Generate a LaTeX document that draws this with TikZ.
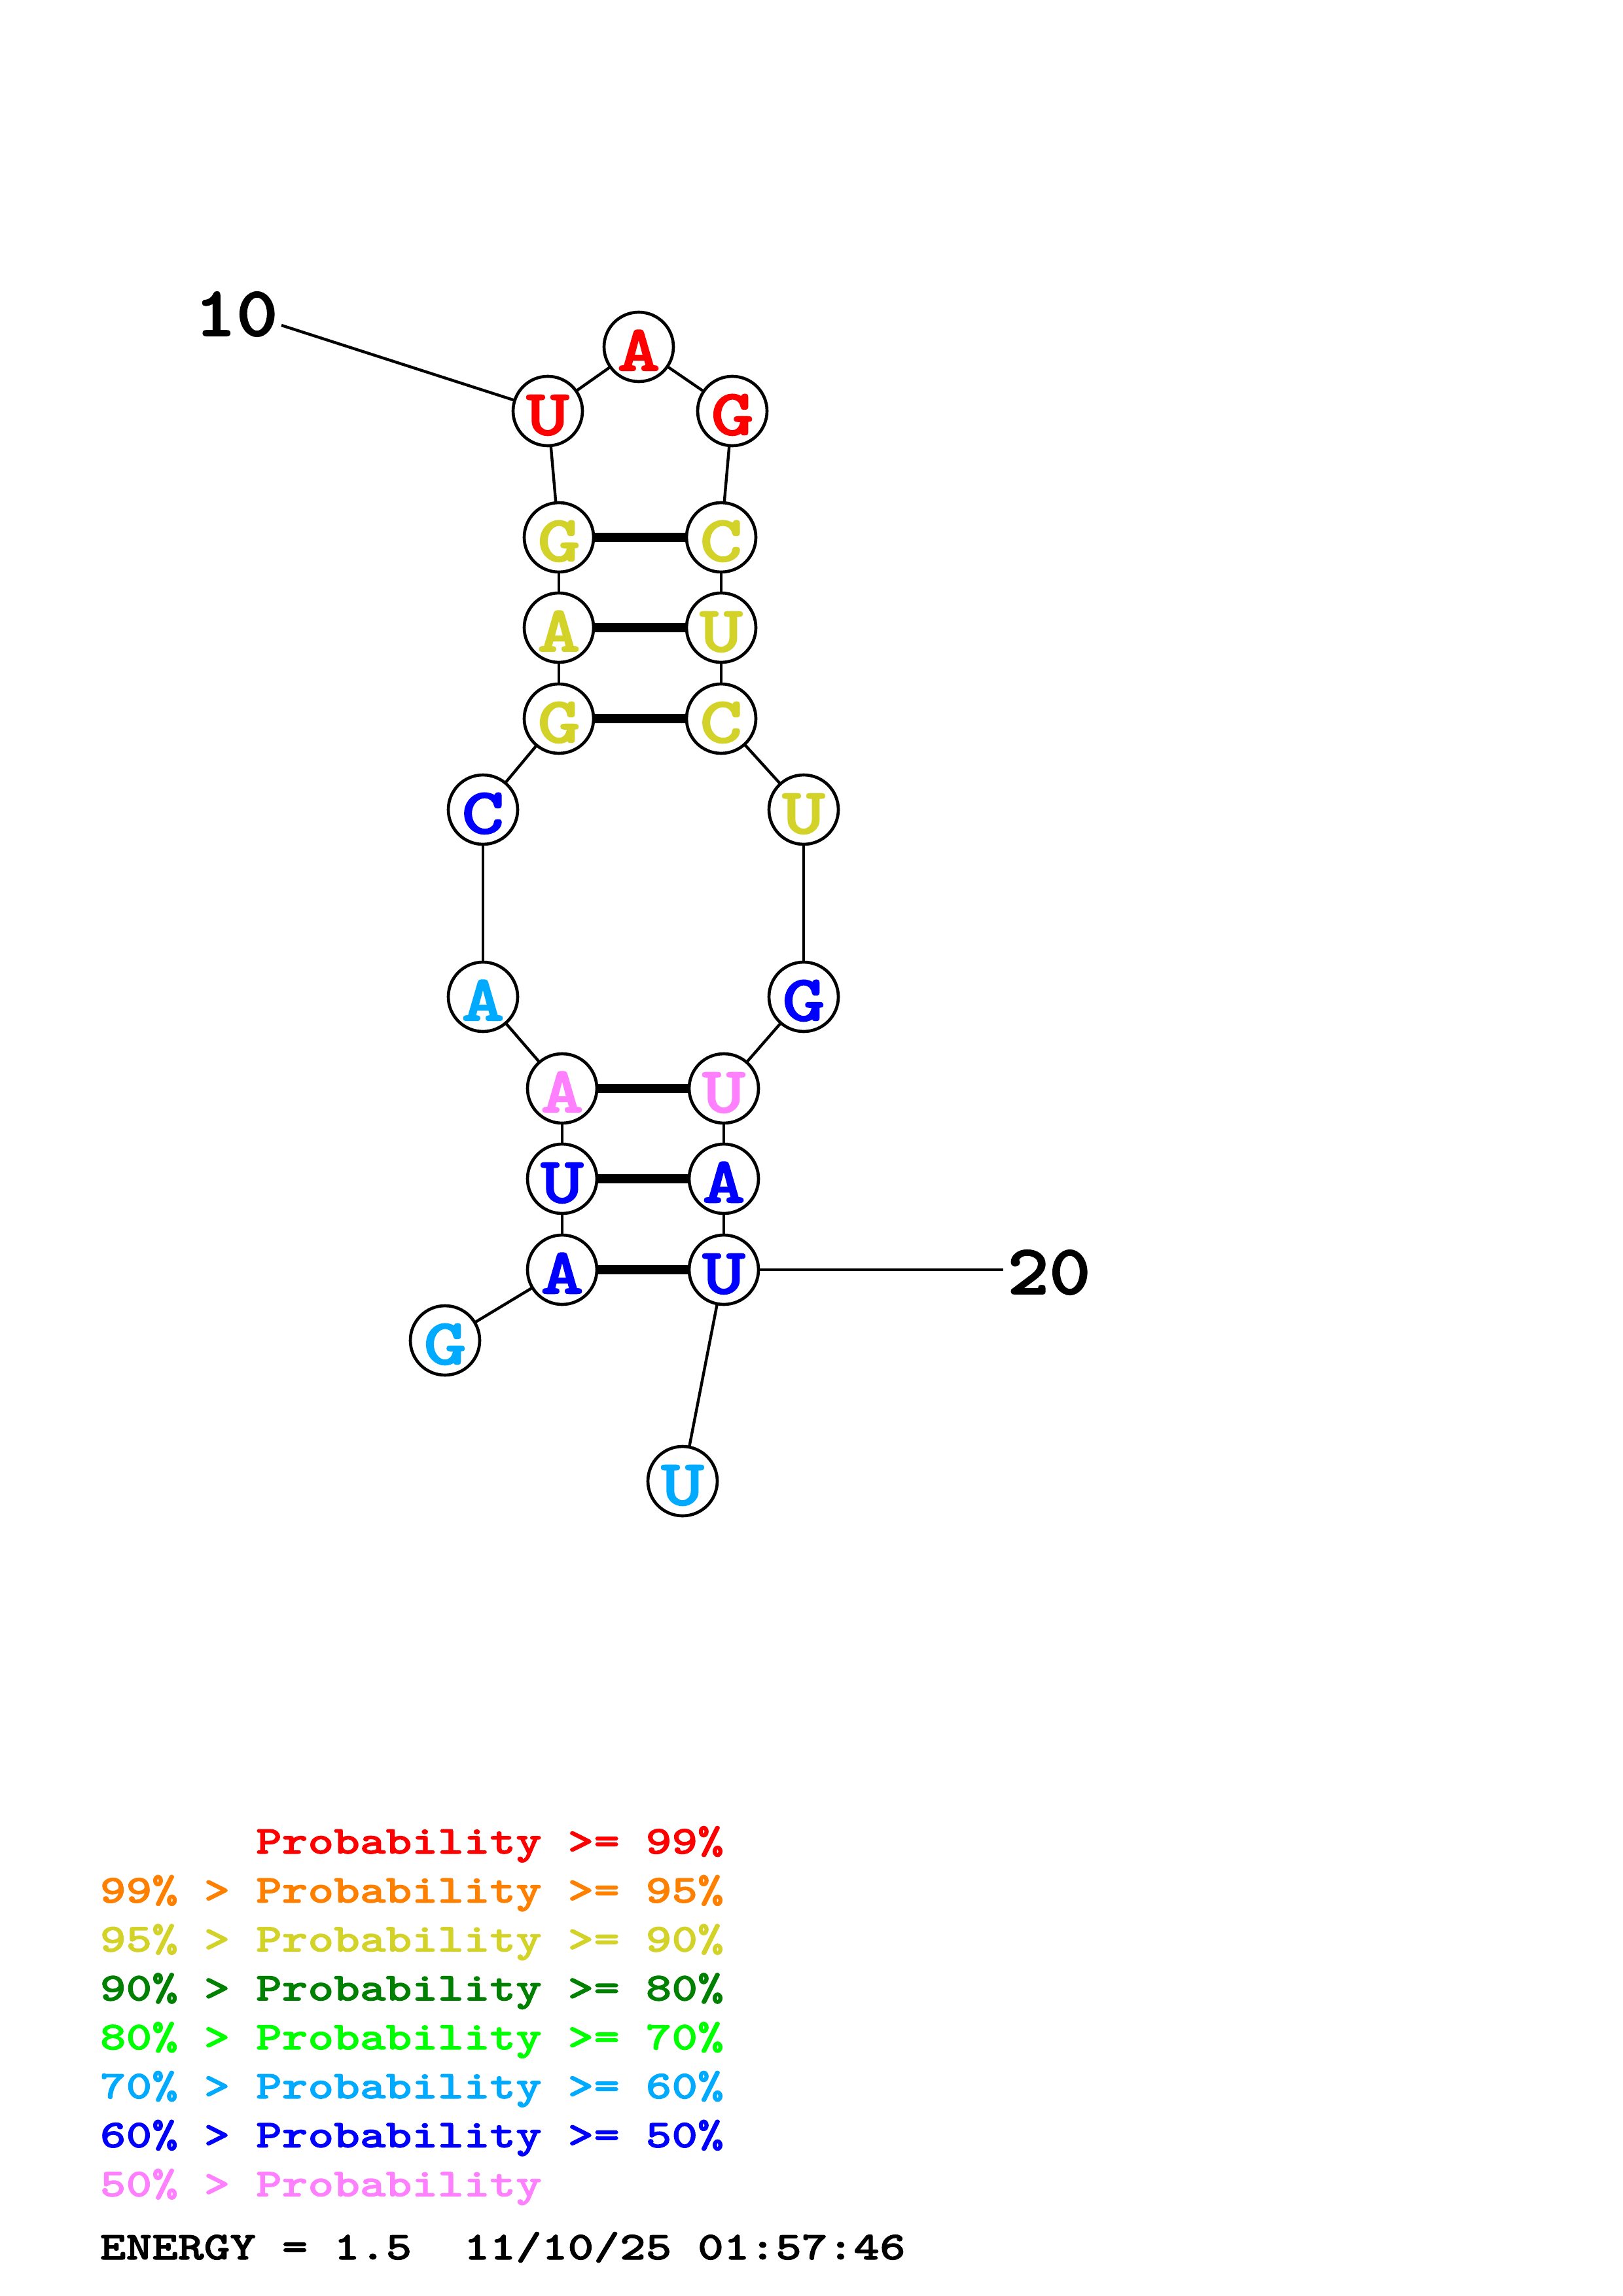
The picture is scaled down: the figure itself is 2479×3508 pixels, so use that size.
\documentclass[tikz,border=0pt]{standalone}
\usepackage{fontspec}
\newfontfamily\cour{lmmonolt10-bold.otf}[FakeStretch=1.25,FakeBold=1.6]
\newfontfamily\courlbl{lmmonolt10-bold.otf}[FakeStretch=1.12,FakeBold=1.6]
\definecolor{pred}{RGB}{255,0,0}
\definecolor{porange}{RGB}{255,128,0}
\definecolor{pyellow}{RGB}{210,210,40}
\definecolor{pdgreen}{RGB}{0,128,0}
\definecolor{pgreen}{RGB}{0,255,0}
\definecolor{plblue}{RGB}{0,170,255}
\definecolor{pblue}{RGB}{0,0,255}
\definecolor{ppink}{RGB}{255,128,255}
\begin{document}
\frenchspacing
\begin{tikzpicture}[x=0.24014pt,y=-0.24014pt,
  nt/.style={circle,draw=black,line width=1.12pt,fill=white,minimum size=25.45pt,
    inner sep=0pt,outer sep=0pt,text height=17.5pt,text depth=0pt,
    font=\cour\fontsize{24}{24}\selectfont},
  bb/.style={line width=1.05pt},
  bp/.style={line width=3.36pt},
  lbl/.style={inner sep=0pt,font=\courlbl\fontsize{26}{26}\selectfont},
  leg/.style={anchor=base west,inner sep=0pt,font=\cour\fontsize{14.53}{14.53}\selectfont}]
\useasboundingbox (0,0) rectangle (2479,3508);
\fill[white] (0,0) rectangle (2479,3508);
% nucleotides
\node[nt,text=plblue]  (n1)  at (680,2048) {G};
\node[nt,text=pblue]   (n2)  at (859,1940) {A};
\node[nt,text=pblue]   (n3)  at (859,1801) {U};
\node[nt,text=ppink]   (n4)  at (859,1663) {A};
\node[nt,text=plblue]  (n5)  at (738,1523) {A};
\node[nt,text=pblue]   (n6)  at (738,1237) {C};
\node[nt,text=pyellow] (n7)  at (854,1098) {G};
\node[nt,text=pyellow] (n8)  at (854,959)  {A};
\node[nt,text=pyellow] (n9)  at (854,821)  {G};
\node[nt,text=pred]    (n10) at (837,628)  {U};
\node[nt,text=pred]    (n11) at (976,530)  {A};
\node[nt,text=pred]    (n12) at (1119,628) {G};
\node[nt,text=pyellow] (n13) at (1102,821) {C};
\node[nt,text=pyellow] (n14) at (1102,959) {U};
\node[nt,text=pyellow] (n15) at (1102,1098) {C};
\node[nt,text=pyellow] (n16) at (1228,1237) {U};
\node[nt,text=pblue]   (n17) at (1228,1523) {G};
\node[nt,text=ppink]   (n18) at (1106,1663) {U};
\node[nt,text=pblue]   (n19) at (1106,1801) {A};
\node[nt,text=pblue]   (n20) at (1106,1940) {U};
\node[nt,text=plblue]  (n21) at (1043,2263) {U};
% backbone
\foreach \a/\b in {1/2,2/3,3/4,4/5,5/6,6/7,7/8,8/9,9/10,10/11,11/12,12/13,13/14,14/15,15/16,16/17,17/18,18/19,19/20,20/21}
  \draw[bb] (n\a) -- (n\b);
% pairs
\foreach \a/\b in {2/20,3/19,4/18,7/15,8/14,9/13}
  \draw[bp] (n\a) -- (n\b);
% position labels
\node[lbl] (l10) at (361,480) {10};
\node[lbl] (l20) at (1603,1944) {20};
\coordinate (c10) at (430,497);
\coordinate (c20) at (1533,1940);
\draw[bb] (n10) -- (c10);
\draw[bb] (n20) -- (c20);
% legend
\node[leg,text=pred]    (g1) at (152,2832) {\hphantom{99\% > }Probability >= 99\%};
\node[leg,text=porange] (g2) at (152,2906.8) {99\% > Probability >= 95\%};
\node[leg,text=pyellow] (g3) at (152,2981.6) {95\% > Probability >= 90\%};
\node[leg,text=pdgreen] (g4) at (152,3056.4) {90\% > Probability >= 80\%};
\node[leg,text=pgreen]  (g5) at (152,3131.2) {80\% > Probability >= 70\%};
\node[leg,text=plblue]  (g6) at (152,3206) {70\% > Probability >= 60\%};
\node[leg,text=pblue]   (g7) at (152,3280.8) {60\% > Probability >= 50\%};
\node[leg,text=ppink]   (g8) at (152,3355.6) {50\% > Probability};
\node[leg,text=black]   (en) at (152,3452) {ENERGY = 1.5\ \ 11/10/25 01:57:46};
\end{tikzpicture}
\end{document}
